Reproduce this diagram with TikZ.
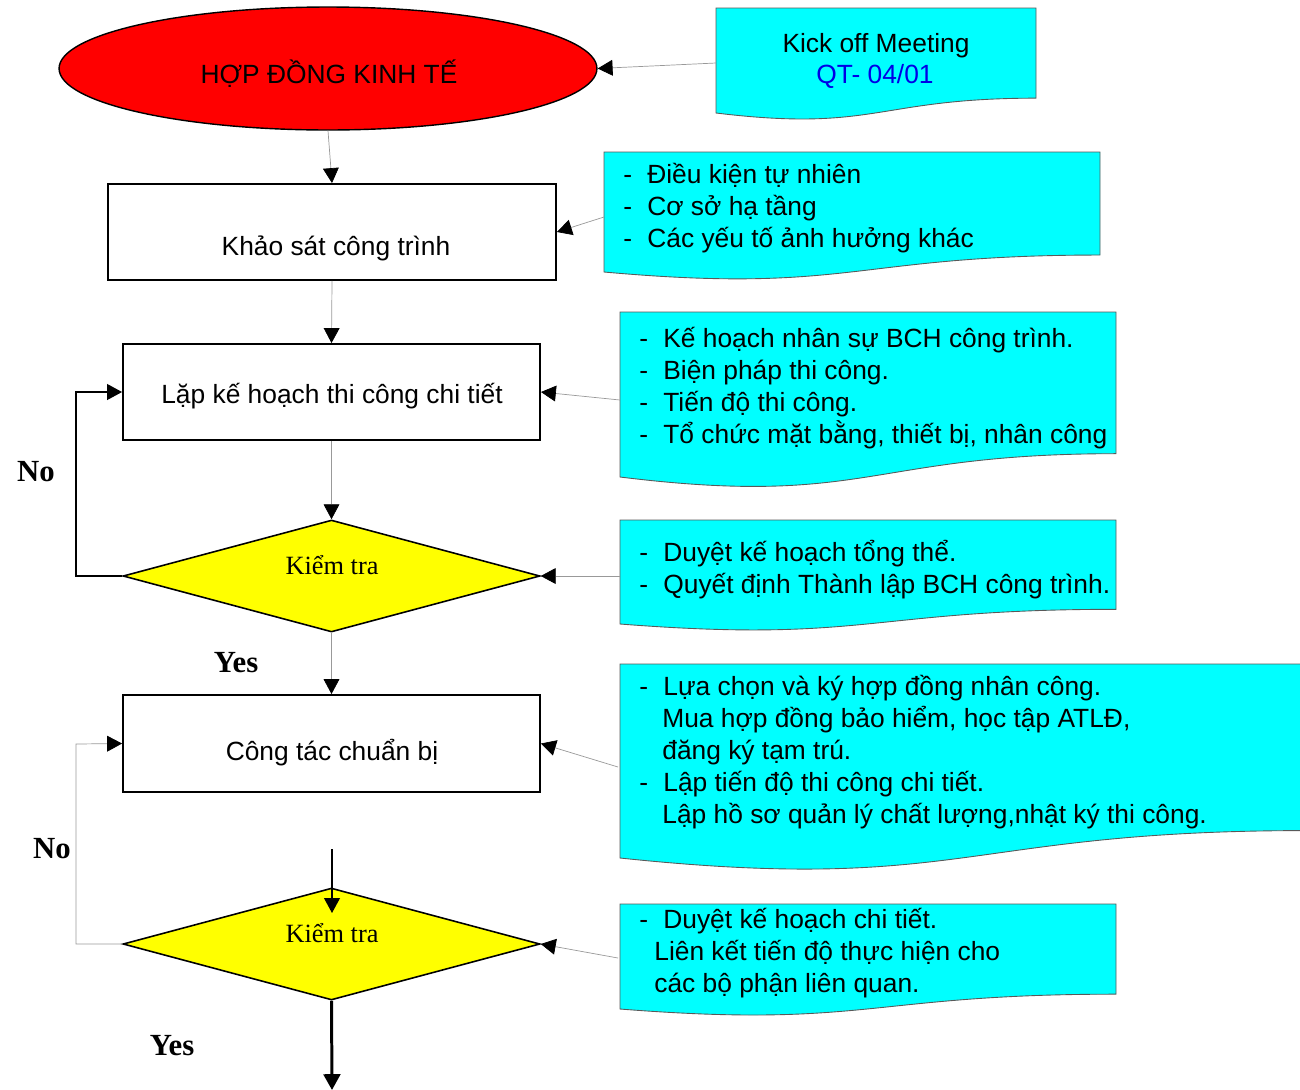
\documentclass[tikz,border=0pt]{standalone}
\usepackage{fontspec}
\setmainfont{Liberation Serif}
\newfontfamily\arialf{Liberation Sans}
\usetikzlibrary{shapes.geometric,arrows.meta}
\definecolor{docfill}{RGB}{0,255,255}
\definecolor{redfill}{RGB}{255,0,0}
\definecolor{yelfill}{RGB}{255,255,0}
\definecolor{qtblue}{RGB}{0,0,230}
\tikzset{
 sanstext/.style={font=\arialf\fontsize{15}{18}\selectfont, inner sep=0pt, anchor=base},
 sanslft/.style={sanstext, anchor=base west},
 sertext/.style={font=\fontsize{15}{18}\selectfont, inner sep=0pt, anchor=base},
 boldlbl/.style={font=\bfseries\fontsize{17.5}{20}\selectfont, inner sep=0pt, anchor=base},
 procbox/.style={draw=black, line width=1.1pt, fill=white, rectangle, inner sep=0pt},
 decbox/.style={draw=black, line width=0.9pt, fill=yelfill, diamond, inner sep=0pt},
 docshape/.style={draw=black!65, line width=0.5pt, fill=docfill},
 tip/.style={-{Triangle[length=8.5pt,width=9pt,color=black]}},
 conn/.style={tip, draw=black!40, line width=0.4pt},
 darkconn/.style={tip, draw=black, line width=0.8pt},
 thickconn/.style={-{Triangle[length=9pt,width=9.5pt,color=black]}, draw=black, line width=1.7pt},
}
\newcommand\docbox[4]{%
  \pgfmathsetmacro\dh{(#4-#2)/0.934}%
  \pgfmathsetmacro\dyr{#2+0.802*\dh}%
  \pgfmathsetmacro\dyc{#2+1.1075*\dh}%
  \pgfmathsetmacro\dxm{(#1+#3)/2}%
  \path[docshape] (#1,#2) -- (#3,#2) -- (#3,\dyr) .. controls (\dxm,\dyr) and (\dxm,\dyc) .. (#1,#4) -- cycle;%
}
\begin{document}
\begin{tikzpicture}[x=0.02cm,y=-0.02cm]
\useasboundingbox (0,0) rectangle (1300,1089);
\clip (0,0) rectangle (1300,1089);

% ---------- document shapes ----------
\docbox{716}{8}{1036}{113}
\docbox{604}{152}{1100}{272}
\docbox{620}{312}{1116}{477}
\docbox{620}{520}{1116}{624}
\docbox{620}{664}{1306}{858}
\docbox{620}{904}{1116}{1009}

\coordinate (kick) at (716,63);
\coordinate (doc2) at (604,217);
\coordinate (doc3) at (620,400);
\coordinate (doc4) at (620,576);
\coordinate (doc5) at (618,767);
\coordinate (doc6) at (618,958);

% ---------- document texts ----------
\node[sanstext] (k1) at (876,52) {Kick off Meeting};
\node[sanstext, text=qtblue] (k2) at (875,83) {QT- 04/01};

\node[sanslft] (b2a) at (623,183) {-};
\node[sanslft] (t2a) at (647,183) {Điều kiện tự nhiên};
\node[sanslft] (b2b) at (623,215) {-};
\node[sanslft] (t2b) at (647,215) {Cơ sở hạ tầng};
\node[sanslft] (b2c) at (623,247) {-};
\node[sanslft] (t2c) at (647,247) {Các yếu tố ảnh hưởng khác};

\node[sanslft] (b3a) at (639,347) {-};
\node[sanslft] (t3a) at (663,347) {Kế hoạch nhân sự BCH công trình.};
\node[sanslft] (b3b) at (639,379) {-};
\node[sanslft] (t3b) at (663,379) {Biện pháp thi công.};
\node[sanslft] (b3c) at (639,411) {-};
\node[sanslft] (t3c) at (663,411) {Tiến độ thi công.};
\node[sanslft] (b3d) at (639,443) {-};
\node[sanslft] (t3d) at (663,443) {Tổ chức mặt bằng, thiết bị, nhân công};

\node[sanslft] (b4a) at (639,561) {-};
\node[sanslft] (t4a) at (663,561) {Duyệt kế hoạch tổng thể.};
\node[sanslft] (b4b) at (639,593) {-};
\node[sanslft] (t4b) at (663,593) {Quyết định Thành lập BCH công trình.};

\node[sanslft] (b5a) at (639,695) {-};
\node[sanslft] (t5a) at (663,695) {Lựa chọn và ký hợp đồng nhân công.};
\node[sanslft] (t5b) at (662,727) {Mua hợp đồng bảo hiểm, học tập ATLĐ,};
\node[sanslft] (t5c) at (662,759) {đăng ký tạm trú.};
\node[sanslft] (b5d) at (639,791) {-};
\node[sanslft] (t5d) at (663,791) {Lập tiến độ thi công chi tiết.};
\node[sanslft] (t5e) at (662,823) {Lập hồ sơ quản lý chất lượng,nhật ký thi công.};

\node[sanslft] (b6a) at (639,928) {-};
\node[sanslft] (t6a) at (663,928) {Duyệt kế hoạch chi tiết.};
\node[sanslft] (t6b) at (654,960) {Liên kết tiến độ thực hiện cho};
\node[sanslft] (t6c) at (654,992) {các bộ phận liên quan.};

% ---------- flow nodes ----------
\node[ellipse, draw=black, line width=0.8pt, fill=redfill, inner sep=0pt,
      minimum width=10.76cm, minimum height=2.46cm] (hd) at (328,68.5) {};
\node[sanstext] (hdt) at (329,83) {HỢP ĐỒNG KINH TẾ};

\node[procbox, minimum width=8.96cm, minimum height=1.92cm] (ks) at (332,232) {};
\node[sanstext] (kst) at (336,255) {Khảo sát công trình};

\node[procbox, minimum width=8.34cm, minimum height=1.92cm] (lk) at (331.5,392) {};
\node[sanstext] (lkt) at (332,403) {Lặp kế hoạch thi công chi tiết};

\node[decbox, minimum width=8.34cm, minimum height=2.24cm] (kt1) at (331.5,576) {};
\node[sertext] (kt1t) at (332,574) {Kiểm tra};

\node[procbox, minimum width=8.34cm, minimum height=1.94cm] (ct) at (331.5,743.5) {};
\node[sanstext] (ctt) at (332,760) {Công tác chuẩn bị};

\node[decbox, minimum width=8.34cm, minimum height=2.24cm] (kt2) at (331.5,944) {};
\node[sertext] (kt2t) at (332,942) {Kiểm tra};

% ---------- labels ----------
\node[boldlbl] (no1) at (36,481) {No};
\node[boldlbl] (no2) at (52,858) {No};
\node[boldlbl] (yes1) at (236,672) {Yes};
\node[boldlbl] (yes2) at (172,1055) {Yes};

% ---------- connectors ----------
\draw[conn] (kick) -- (hd.east);
\draw[conn] (hd.south) -- (ks.north);
\draw[conn] (doc2) -- (ks.east);
\draw[conn] (ks.south) -- (lk.north);
\draw[conn] (doc3) -- (lk.east);
\draw[conn] (lk.south) -- (kt1.north);
\draw[darkconn] (kt1.west) -- (76,576) -- (76,392) -- (lk.west);
\draw[conn] (doc4) -- (kt1.east);
\draw[conn] (kt1.south) -- (ct.north);
\draw[conn] (doc5) -- (ct.east);
\coordinate (cin) at (332,849);
\coordinate (ctip) at (332,913);
\draw[darkconn] (cin) -- (ctip);
\draw[conn] (kt2.west) -- (76,944) -- (76,744) -- (ct.west);
\draw[conn] (doc6) -- (kt2.east);
\coordinate (out) at (332,1090);
\draw[thickconn] (kt2.south) -- (out);
\end{tikzpicture}
\end{document}
